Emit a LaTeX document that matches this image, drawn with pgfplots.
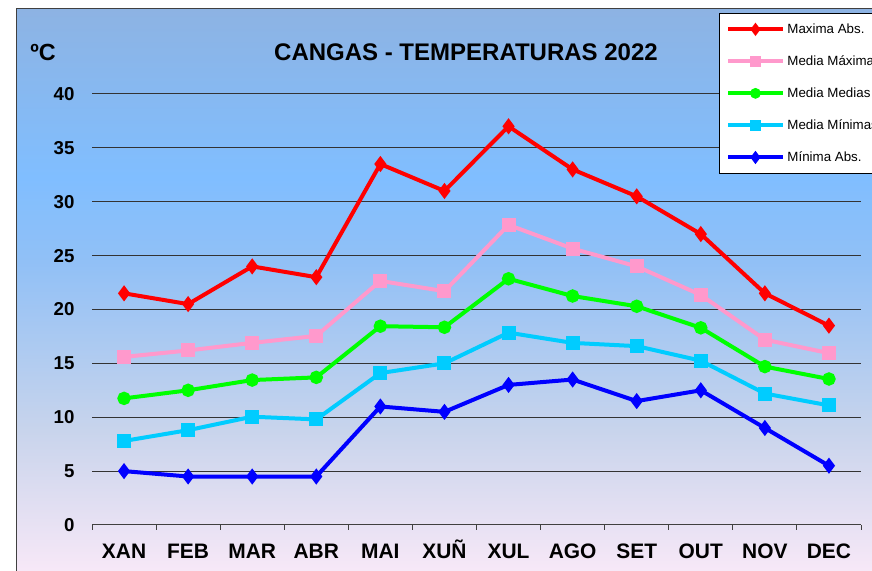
\documentclass[border=0pt]{standalone}
\usepackage{fontspec}
\setmainfont{Liberation Sans}
\usepackage{pgfplots}
\pgfplotsset{compat=1.18}
\definecolor{bgA}{RGB}{247,232,247}
\definecolor{bgB}{RGB}{200,212,236}
\definecolor{bgC}{RGB}{145,192,246}
\definecolor{bgD}{RGB}{128,190,255}
\definecolor{bgE}{RGB}{141,179,227}
\definecolor{cMax}{RGB}{255,0,0}
\definecolor{cMedMax}{RGB}{255,153,204}
\definecolor{cMed}{RGB}{0,255,0}
\definecolor{cMedMin}{RGB}{0,204,255}
\definecolor{cMin}{RGB}{0,0,255}
\pgfdeclareverticalshading{bgshade}{100bp}{color(0bp)=(bgA); color(25bp)=(bgA); color(37.5bp)=(bgB); color(52.5bp)=(bgC); color(60bp)=(bgD); color(75bp)=(bgE); color(100bp)=(bgE)}
\begin{document}
\begin{tikzpicture}
\useasboundingbox (0,0) rectangle (654pt,428.25pt);
\clip (0,0) rectangle (654pt,428.25pt);
\shade[shading=bgshade] (12pt,0pt) rectangle (655pt,421.5pt);
\draw[draw=black!75, line width=0.75pt] (12pt,-5pt) -- (12pt,421.5pt) -- (660pt,421.5pt);
\begin{axis}[
  at={(69pt,34.5pt)}, anchor=south west,
  scale only axis, width=576.75pt, height=323.25pt,
  xmin=-0.5, xmax=11.5, ymin=0, ymax=40,
  axis x line*=bottom, axis y line*=left,
  x axis line style={-, draw=black!75, line width=0.75pt},
  y axis line style={draw=none},
  xtick={0,...,11},
  xticklabels={XAN,FEB,MAR,ABR,MAI,XUÑ,XUL,AGO,SET,OUT,NOV,DEC},
  minor xtick={-0.5,0.5,...,11.5},
  ytick={0,5,...,40},
  major tick length=0pt, minor tick length=3.75pt,
  tick align=outside,
  minor tick style={draw=black!75, line width=0.75pt},
  ymajorgrids, grid style={draw=black!80, line width=0.75pt},
  /pgf/number format/assume math mode=true,
  yticklabel style={font=\bfseries\fontsize{14}{16}\selectfont, xshift=-9.6pt},
  xticklabel style={font=\bfseries\fontsize{15.7}{18}\selectfont, text height=11.3pt, text depth=0pt, yshift=-10pt},
  clip=false,
  every axis plot/.append style={line width=3pt},
  legend image code/.code={\draw[mark repeat=2,mark phase=2,#1,mark options={scale=0.7}] plot coordinates {(0pt,0pt) (20.5pt,0pt) (41pt,0pt)};},
  legend style={at={(0.8153,1.1879)}, anchor=north west, draw=black, line width=0.75pt, fill=white,
    font=\fontsize{10}{12}\selectfont, row sep=11.2pt, inner xsep=5pt, inner ysep=5.5pt,
    cells={anchor=west}},
  legend cell align=left,
]
\addplot[color=cMax, mark=diamond*, mark size=3.6pt] coordinates {
(0,21.5) (1,20.5) (2,24) (3,23) (4,33.5) (5,31) (6,37) (7,33) (8,30.5) (9,27) (10,21.5) (11,18.5)};
\addlegendentry{Maxima Abs.}
\addplot[color=cMedMax, mark=square*, mark size=3.75pt] coordinates {
(0,15.6) (1,16.2) (2,16.9) (3,17.55) (4,22.65) (5,21.7) (6,27.85) (7,25.65) (8,24.0) (9,21.35) (10,17.2) (11,15.95)};
\addlegendentry{Media Máximas}
\addplot[color=cMed, mark=*, mark size=3.5pt] coordinates {
(0,11.75) (1,12.5) (2,13.45) (3,13.7) (4,18.45) (5,18.35) (6,22.85) (7,21.25) (8,20.3) (9,18.3) (10,14.7) (11,13.55)};
\addlegendentry{Media Medias}
\addplot[color=cMedMin, mark=square*, mark size=3.75pt] coordinates {
(0,7.8) (1,8.8) (2,10.05) (3,9.8) (4,14.1) (5,15.0) (6,17.85) (7,16.9) (8,16.6) (9,15.25) (10,12.2) (11,11.1)};
\addlegendentry{Media Mínimas}
\addplot[color=cMin, mark=diamond*, mark size=3.6pt] coordinates {
(0,5) (1,4.5) (2,4.5) (3,4.5) (4,11) (5,10.5) (6,13) (7,13.5) (8,11.5) (9,12.5) (10,9) (11,5.5)};
\addlegendentry{Mínima Abs.}
\end{axis}
\node[font=\bfseries\fontsize{17.5}{20}\selectfont] at (32.25pt,389.25pt) {ºC};
\node[font=\bfseries\fontsize{18}{21}\selectfont] at (349.5pt,389.25pt) {CANGAS - TEMPERATURAS 2022};
\end{tikzpicture}
\end{document}
